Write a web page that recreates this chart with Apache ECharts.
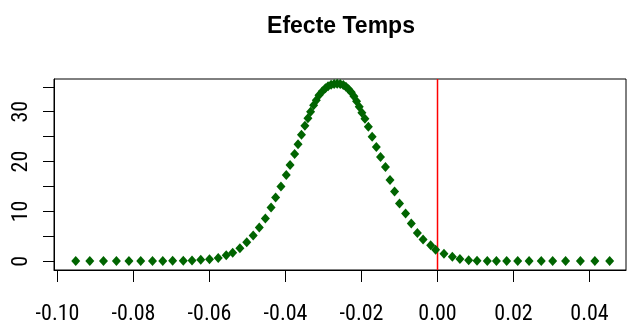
<!DOCTYPE html>
<html>
<head>
<meta charset="utf-8">
<script src="https://cdn.jsdelivr.net/npm/echarts@6/dist/echarts.min.js"></script>
<style>
html,body{margin:0;padding:0;background:#fff;}
#chart{width:627px;height:320px;}
</style>
</head>
<body>
<div id="chart"></div>
<script>
var titleText = "Efecte Temps";
var xValues = [
-0.0952,-0.0915,-0.0879,-0.0845,-0.0812,-0.0781,-0.0750,-0.0723,-0.0697,-0.0669,
-0.0646,-0.0623,-0.0600,-0.0577,-0.0556,-0.0539,-0.0520,-0.0502,-0.0485,-0.0469,
-0.0453,-0.0438,-0.0426,-0.0412,-0.0398,-0.0388,-0.0376,-0.0367,-0.0358,-0.0349,
-0.0341,-0.0334,-0.0326,-0.0319,-0.0312,-0.0303,-0.0295,-0.0288,-0.0280,-0.0272,
-0.0264,-0.0256,-0.0248,-0.0241,-0.0234,-0.0227,-0.0220,-0.0213,-0.0206,-0.0199,
-0.0191,-0.0182,-0.0172,-0.0161,-0.0150,-0.0137,-0.0125,-0.0113,-0.0100,-0.0084,
-0.0069,-0.0053,-0.0038,-0.0018,-0.0005,0.0017,0.0039,0.0059,0.0082,0.0104,
0.0131,0.0155,0.0182,0.0211,0.0241,0.0273,0.0303,0.0337,0.0376,0.0414,0.0453
];
var yValues = [
0.05,0.05,0.05,0.05,0.05,0.06,0.07,0.08,0.1,0.12,
0.18,0.3,0.4,0.66,1.2,1.7,2.6,3.8,5.2,6.8,
8.6,10.8,12.8,15.0,17.3,19.3,21.5,23.5,25.4,27.2,
28.7,30.0,31.3,32.3,33.3,34.1,34.7,35.1,35.4,35.55,
35.6,35.55,35.35,35.0,34.5,33.9,33.1,32.1,31.0,29.8,
28.6,27.0,25.0,22.9,20.9,18.9,16.3,14.0,11.6,9.6,
7.6,5.7,4.4,3.2,2.3,1.5,0.9,0.45,0.2,0.1,
0.06,0.05,0.05,0.05,0.05,0.05,0.05,0.05,0.05,0.05,0.05
];
var xTicks = [-0.10,-0.08,-0.06,-0.04,-0.02,0.00,0.02,0.04];
var yTicks = [0,5,10,15,20,25,30,35];
var yLabels = [0,10,20,30];
var refLineX = 0;
var xMin = -0.10092, xMax = 0.04960;
var yMin = -1.74, yMax = 36.56;

var points = xValues.map(function(x,i){return [x,yValues[i]];});
var refLinePoints = [[refLineX, yMin], [refLineX, yMax]];
var tickFont = "'Roboto Condensed','Liberation Sans',sans-serif";

var chart = echarts.init(document.getElementById('chart'), null, {renderer:'canvas'});
chart.setOption({
  animation:false,
  backgroundColor:'#ffffff',
  title:{
    text:titleText,
    left:336, top:10,
    textAlign:'center',
    textStyle:{fontFamily:"'Liberation Sans',Arial,sans-serif",fontSize:23,fontWeight:'bold',color:'#000'}
  },
  grid:{left:54, top:79, width:572, height:191, outerBoundsMode:'none', containLabel:false,
    show:true, borderColor:'#000', borderWidth:1, backgroundColor:'transparent'},
  xAxis:{
    type:'value', min:xMin, max:xMax,
    axisLine:{show:true, onZero:false, lineStyle:{color:'#000',width:1}},
    axisTick:{show:true, length:12, customValues:xTicks, lineStyle:{color:'#000'}},
    axisLabel:{show:true, customValues:xTicks, margin:33, color:'#000', fontSize:22, fontFamily:tickFont,
      formatter:function(v){return v.toFixed(2);}},
    splitLine:{show:false}
  },
  yAxis:{
    type:'value', min:yMin, max:yMax,
    axisLine:{show:true, onZero:false, lineStyle:{color:'#000',width:1}},
    axisTick:{show:true, length:11, customValues:yTicks, lineStyle:{color:'#000'}},
    axisLabel:{show:true, customValues:yLabels, rotate:90, margin:22, color:'#000', fontSize:22, fontFamily:tickFont},
    splitLine:{show:false}
  },
  series:[{
    type:'line',
    data:refLinePoints,
    showSymbol:false,
    symbol:'none',
    silent:true,
    z:1,
    lineStyle:{color:'#ff0000', width:1.5, type:'solid'}
  },{
    type:'scatter',
    data:points,
    symbol:'diamond',
    symbolSize:[9,10],
    itemStyle:{color:'#006400', opacity:1},
    z:2
  }]
});
</script>
</body>
</html>
